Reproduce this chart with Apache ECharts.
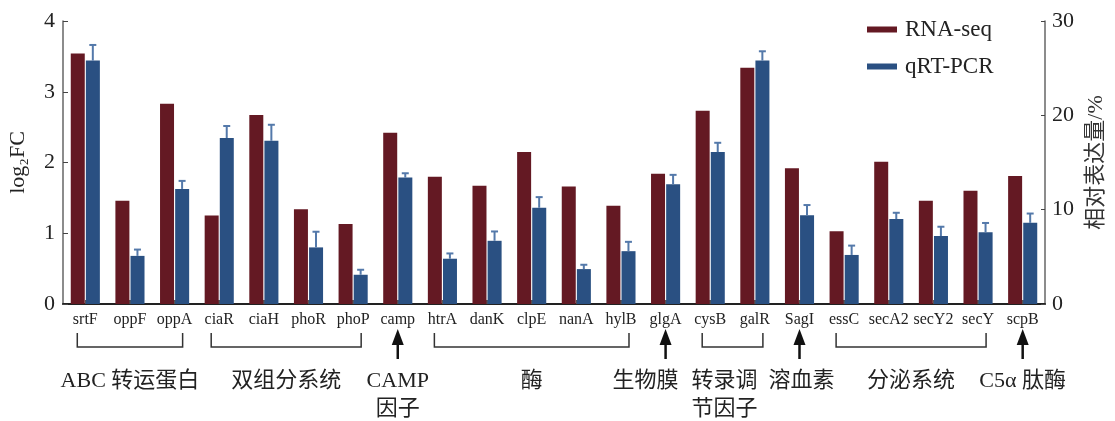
<!DOCTYPE html>
<html>
<head>
<meta charset="utf-8">
<script src="https://cdn.jsdelivr.net/npm/echarts@6/dist/echarts.min.js"></script>
<style>
  html, body { margin: 0; padding: 0; background: #fff; }
  #chart { width: 1115px; height: 421px; }
</style>
</head>
<body>
<div id="chart"></div>
<script>
// Genes on the x axis
const genes = ['srtF', 'oppF', 'oppA', 'ciaR', 'ciaH', 'phoR', 'phoP', 'camp', 'htrA', 'danK', 'clpE',
  'nanA', 'hylB', 'glgA', 'cysB', 'galR', 'SagI', 'essC', 'secA2', 'secY2', 'secY', 'scpB'];

// RNA-seq fold change (log2FC, left axis)
const rnaSeq = [3.54, 1.46, 2.83, 1.25, 2.67, 1.34, 1.13, 2.42, 1.80, 1.67, 2.15,
  1.66, 1.39, 1.84, 2.73, 3.34, 1.92, 1.03, 2.01, 1.46, 1.60, 1.81];

// qRT-PCR relative expression (%, right axis) and its standard deviation
const qrtPcr = [25.8, 5.1, 12.2, 17.6, 17.3, 6.0, 3.1, 13.4, 4.8, 6.7, 10.2,
  3.7, 5.6, 12.7, 16.1, 25.8, 9.4, 5.2, 9.0, 7.2, 7.6, 8.6];
const qrtPcrSd = [1.66, 0.67, 0.85, 1.27, 1.70, 1.66, 0.53, 0.46, 0.56, 0.99, 1.13,
  0.46, 0.99, 0.99, 0.99, 0.99, 1.09, 0.99, 0.67, 0.99, 0.99, 0.99];

// Tick values of both value axes
const leftTicks = [0, 1, 2, 3, 4];
const rightTicks = [0, 10, 20, 30];

// Functional groups shown under the axis: brackets span several genes, arrows point at one
const groups = [
  { label: 'ABC 转运蛋白', from: 'srtF', to: 'oppA' },
  { label: '双组分系统', from: 'ciaR', to: 'phoP' },
  { label: 'CAMP\n因子', at: 'camp' },
  { label: '酶', from: 'htrA', to: 'hylB' },
  { label: '生物膜', at: 'glgA' },
  { label: '转录调\n节因子', from: 'cysB', to: 'galR' },
  { label: '溶血素', at: 'SagI' },
  { label: '分泌系统', from: 'essC', to: 'secY' },
  { label: 'C5α 肽酶', at: 'scpB' }
];

// Horizontal nudges (px) that keep neighbouring captions from colliding
const captionNudge = { '生物膜': -20, '转录调\n节因子': -8, '溶血素': 2 };

const RED = '#641923';
const BLUE = '#2a5082';
const SERIF = "'Liberation Serif', 'Times New Roman', 'Noto Sans CJK SC', serif";
const MIXED = "'Liberation Serif', 'Noto Sans CJK SC', serif";

const chart = echarts.init(document.getElementById('chart'), null, { renderer: 'canvas' });

const option = {
  backgroundColor: '#fff',
  animation: false,
  grid: { left: 63, right: 70, top: 21, bottom: 117, outerBoundsMode: 'none' },
  legend: {
    orient: 'vertical',
    left: 862,
    top: 13,
    itemWidth: 30,
    itemHeight: 6,
    itemGap: 14,
    icon: 'rect',
    textStyle: { fontFamily: SERIF, fontSize: 23, color: '#222', padding: [0, 0, 0, 3] },
    data: ['RNA-seq', 'qRT-PCR']
  },
  xAxis: {
    type: 'category',
    data: genes,
    axisLine: { lineStyle: { color: '#222', width: 2 } },
    axisTick: { show: true, alignWithLabel: true, inside: true, length: 4, lineStyle: { color: '#555', width: 2 } },
    axisLabel: { fontFamily: SERIF, fontSize: 16, color: '#222', margin: 8, interval: 0 }
  },
  yAxis: [
    {
      type: 'value',
      min: leftTicks[0],
      max: leftTicks[leftTicks.length - 1],
      interval: leftTicks[1] - leftTicks[0],
      name: 'log₂FC',
      nameLocation: 'middle',
      nameRotate: 90,
      nameGap: 34,
      nameTextStyle: { fontFamily: SERIF, fontSize: 22, color: '#222' },
      axisLine: { show: true, lineStyle: { color: '#666', width: 1.5 } },
      axisTick: { show: true, inside: true, length: 5, lineStyle: { color: '#444' } },
      axisLabel: { fontFamily: SERIF, fontSize: 22, color: '#222', margin: 8 },
      splitLine: { show: false }
    },
    {
      type: 'value',
      min: rightTicks[0],
      max: rightTicks[rightTicks.length - 1],
      interval: rightTicks[1] - rightTicks[0],
      position: 'right',
      name: '相对表达量/%',
      nameLocation: 'middle',
      nameRotate: 90,
      nameGap: 40,
      nameTextStyle: { fontFamily: MIXED, fontSize: 22, color: '#333' },
      axisLine: { show: true, lineStyle: { color: '#666', width: 1.5 } },
      axisTick: { show: true, inside: true, length: 4, lineStyle: { color: '#444' } },
      axisLabel: { fontFamily: SERIF, fontSize: 22, color: '#222', margin: 7 },
      splitLine: { show: false }
    }
  ],
  series: [
    {
      name: 'RNA-seq',
      type: 'bar',
      yAxisIndex: 0,
      barWidth: 14,
      barGap: '8%',
      itemStyle: { color: RED },
      data: rnaSeq
    },
    {
      name: 'qRT-PCR',
      type: 'bar',
      yAxisIndex: 1,
      barWidth: 14,
      barGap: '8%',
      itemStyle: { color: BLUE },
      data: qrtPcr
    },
    {
      // upper error bars of the qRT-PCR columns
      name: 'qRT-PCR SD',
      type: 'custom',
      yAxisIndex: 1,
      z: 3,
      silent: true,
      data: qrtPcr.map((v, i) => [i, v, qrtPcrSd[i]]),
      renderItem: function (params, api) {
        const i = api.value(0);
        const base = api.coord([i, api.value(1)]);
        const top = api.coord([i, api.value(1) + api.value(2)]);
        const x = base[0] + 7.5;
        const style = { stroke: '#5479aa', lineWidth: 2 };
        return {
          type: 'group',
          children: [
            { type: 'line', shape: { x1: x, y1: base[1], x2: x, y2: top[1] }, style: style },
            { type: 'line', shape: { x1: x - 3.5, y1: top[1], x2: x + 3.5, y2: top[1] }, style: style }
          ]
        };
      }
    }
  ]
};

chart.setOption(option);

// Group brackets, arrows and captions under the gene labels
function drawGroups() {
  const px = name => chart.convertToPixel({ xAxisIndex: 0 }, name);
  const step = px(genes[1]) - px(genes[0]);
  const ext = step * 0.18;
  const yTop = 333, yBottom = 347, textTop = 367;
  const elements = [];
  groups.forEach(g => {
    let cx;
    if (g.at) {
      cx = px(g.at);
      elements.push({
        type: 'polygon',
        shape: { points: [[cx, 329], [cx - 6, 345], [cx + 6, 345]] },
        style: { fill: '#111' }
      });
      elements.push({
        type: 'line',
        shape: { x1: cx, y1: 344, x2: cx, y2: 359 },
        style: { stroke: '#111', lineWidth: 2.5 }
      });
    } else {
      const x1 = px(g.from) - ext;
      const x2 = px(g.to) + ext;
      cx = (x1 + x2) / 2;
      elements.push({
        type: 'polyline',
        shape: { points: [[x1, yTop], [x1, yBottom], [x2, yBottom], [x2, yTop]] },
        style: { stroke: '#333', lineWidth: 1.5, fill: null }
      });
    }
    elements.push({
      type: 'text',
      x: cx + (captionNudge[g.label] || 0),
      y: textTop,
      style: {
        text: g.label,
        fontFamily: MIXED,
        fontSize: 22,
        lineHeight: 28,
        fill: '#222',
        align: 'center',
        verticalAlign: 'top'
      }
    });
  });
  chart.setOption({ graphic: { elements: elements } });
}

drawGroups();
</script>
</body>
</html>
